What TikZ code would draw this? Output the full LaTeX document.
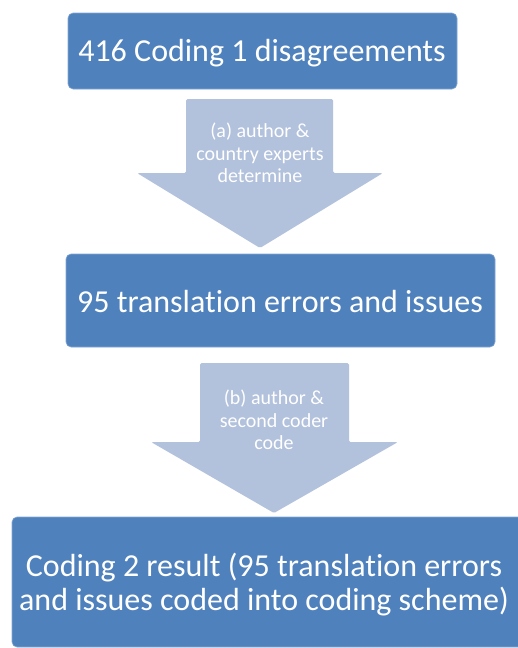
\documentclass[tikz,border=0pt]{standalone}
\usepackage{fontspec}
\setmainfont[Ligatures={NoCommon}]{Carlito}
\definecolor{boxblue}{HTML}{4F81BD}
\definecolor{arrowblue}{HTML}{B2C1DC}
\begin{document}
\begin{tikzpicture}[x=1pt,y=-1pt,
  box/.style={fill=boxblue, draw=boxblue!70!white, line width=0.6pt, rounded corners=5pt},
  boxtext/.style={text=white, align=center, inner sep=0pt, font=\fontsize{32}{34}\selectfont},
  arrowtext/.style={text=white, align=center, inner sep=0pt, font=\fontsize{20}{22.5}\selectfont},
  bigarrow/.style={fill=arrowblue, draw=none, rounded corners=1.5pt}]
\useasboundingbox (0,0) rectangle (518,648);
\clip (0,0) rectangle (518,648);
% arrows (drawn first, under boxes)
\path[bigarrow] (186,99) -- (333,99) -- (333,173) -- (383,173) -- (260,248) -- (137,173) -- (186,173) -- cycle;
\path[bigarrow] (200,363) -- (349,363) -- (349,442) -- (398,442) -- (274,513) -- (151,442) -- (200,442) -- cycle;
% boxes
\path[box] (68,13) rectangle (457,89);
\node[boxtext] (b1) at (262,53) {416 Coding 1 disagreements};
\path[box] (66,254) rectangle (495,347);
\node[boxtext] (b2) at (280,302) {95 translation errors and issues};
\path[box] (12,517) rectangle (540,647);
\node[boxtext] (b3) at (264,585) {Coding 2 result (95 translation errors\\and issues coded into coding scheme)};
% arrow labels
\node[arrowtext] (a1) at (260,153) {(a) author \&\\country experts\\determine};
\node[arrowtext] (a2) at (274,420) {(b) author \&\\second coder\\code};
\end{tikzpicture}
\end{document}
